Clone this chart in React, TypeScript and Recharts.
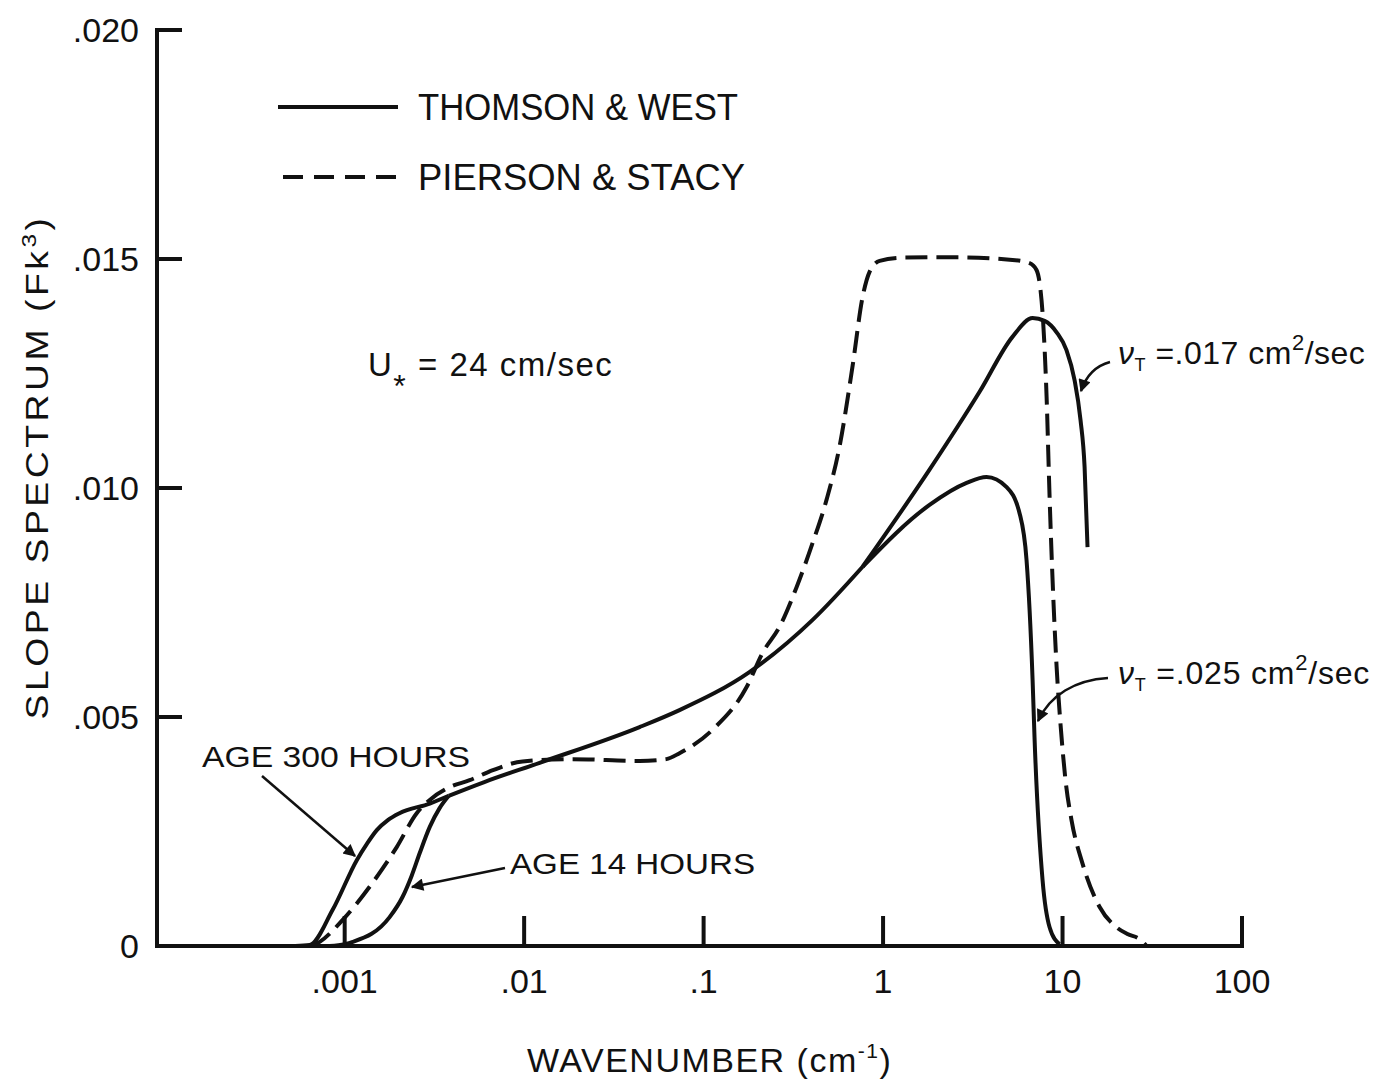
import React from 'react';
import { LineChart, Line, XAxis, YAxis, Legend } from 'recharts';

// wavenumber (cm^-1) ticks, log axis
const xTicks = [0.001, 0.01, 0.1, 1, 10, 100];
const xTickLabels = ['.001', '.01', '.1', '1', '10', '100'];
// slope spectrum ticks
const yTicks = [0, 0.005, 0.01, 0.015, 0.02];
const yTickLabels = ['0', '.005', '.010', '.015', '.020'];

const legendNames = ['THOMSON & WEST', 'PIERSON & STACY'];

// [k, Fk^3]
const piersonStacy = [
  [0.000655, 0], [0.000726, 0.00009], [0.000975, 0.00057], [0.00143, 0.00138], [0.00195, 0.00216],
  [0.00252, 0.0029], [0.00298, 0.00319], [0.00385, 0.00347], [0.00497, 0.00362], [0.0067, 0.00384],
  [0.0098, 0.00403], [0.0186, 0.00408], [0.044, 0.00404], [0.062, 0.00408], [0.0734, 0.00421],
  [0.112, 0.00472], [0.174, 0.00566], [0.213, 0.0064], [0.265, 0.00697], [0.33, 0.00784],
  [0.405, 0.0088], [0.484, 0.00974], [0.573, 0.01092], [0.676, 0.01266], [0.769, 0.01417],
  [0.841, 0.01472], [0.957, 0.01496], [1.3, 0.01503], [2.26, 0.01504], [5.26, 0.01498],
  [6.55, 0.01491], [7.16, 0.01476], [7.54, 0.01432], [7.74, 0.01382], [8.15, 0.01199],
  [8.47, 0.0098], [9.27, 0.00609], [9.75, 0.00483], [10.39, 0.00362], [11.22, 0.00275],
  [12.9, 0.00181], [16.1, 0.00085], [20.0, 0.00041], [23.0, 0.00026], [26.9, 0.00015], [29.4, 0],
];

// Thomson & West, low wavenumber end: age 300 hours / age 14 hours
const twAge300 = [
  [0.00053, 0], [0.000638, 0.00002], [0.000857, 0.00079], [0.00117, 0.00188], [0.00133, 0.00223],
  [0.00151, 0.00253], [0.00174, 0.00275], [0.00202, 0.0029], [0.00298, 0.00311], [0.0038, 0.00328],
];
const twAge14 = [
  [0.000825, 0], [0.001, 0.00004], [0.00111, 0.00009], [0.00178, 0.00063], [0.0021, 0.00107],
  [0.00236, 0.00153], [0.00262, 0.00203], [0.00298, 0.0026], [0.00338, 0.00301], [0.0038, 0.00328],
];
// shared middle part
const twCommon = [
  [0.0038, 0.00328], [0.006, 0.00358], [0.0122, 0.004], [0.044, 0.00478], [0.0734, 0.00515],
  [0.18, 0.00598], [0.405, 0.00712], [0.769, 0.00828],
];
// high wavenumber end: nu_T = .017 and .025 cm2/sec
const twNu017 = [
  [0.769, 0.00828], [1.815, 0.0104], [3.45, 0.0121], [5.26, 0.0133], [6.81, 0.01371],
  [7.94, 0.01365], [9.27, 0.0134], [10.52, 0.01301], [11.66, 0.01236], [12.6, 0.01148],
  [13.27, 0.01046], [13.78, 0.00871],
];
const twNu025 = [
  [0.769, 0.00828], [1.815, 0.00963], [2.92, 0.01011], [3.77, 0.01024], [4.88, 0.01002],
  [5.76, 0.00945], [6.3, 0.00843], [6.81, 0.00581], [6.98, 0.00456], [7.74, 0.00144],
  [8.47, 0.00041], [9.62, 0.00004],
];

const toPoints = (rows: number[][]) => rows.map(([k, v]) => ({ k, v }));

const INK = '#111';
const FONT = '"Liberation Sans", Arial, sans-serif';

const labelFor = (ticks: number[], labels: string[], value: number) => {
  const i = ticks.findIndex((t) => Math.abs(t - value) < Math.abs(t) * 1e-6 + 1e-12);
  return i >= 0 ? labels[i] : String(value);
};

function XTick(props: any) {
  const { x, y, payload } = props;
  return (
    <g>
      <line x1={x} y1={y} x2={x} y2={y - 30} stroke={INK} strokeWidth={4} />
      <text x={x} y={y + 47} textAnchor="middle" fontSize={34} fill={INK} fontFamily={FONT}>
        {labelFor(xTicks, xTickLabels, payload.value)}
      </text>
    </g>
  );
}

function YTick(props: any) {
  const { x, y, payload } = props;
  return (
    <g>
      {payload.value !== 0 && (
        <line x1={x} y1={y} x2={x + 25} y2={y} stroke={INK} strokeWidth={4} />
      )}
      <text x={x - 18} y={y + 12} textAnchor="end" fontSize={34} fill={INK} fontFamily={FONT}>
        {labelFor(yTicks, yTickLabels, payload.value)}
      </text>
    </g>
  );
}

function LegendBox() {
  return (
    <svg width={500} height={130}>
      <line x1={8} y1={27} x2={128} y2={27} stroke={INK} strokeWidth={4} />
      <line x1={13} y1={97} x2={128} y2={97} stroke={INK} strokeWidth={4} strokeDasharray="20 11" />
      <text x={148} y={40} fontSize={36} fill={INK} fontFamily={FONT} textLength={320} lengthAdjust="spacingAndGlyphs">
        {legendNames[0]}
      </text>
      <text x={148} y={110} fontSize={36} fill={INK} fontFamily={FONT} textLength={327} lengthAdjust="spacingAndGlyphs">
        {legendNames[1]}
      </text>
    </svg>
  );
}

const lineProps = {
  type: 'monotone' as const,
  dataKey: 'v',
  stroke: INK,
  strokeWidth: 4,
  dot: false,
  activeDot: false,
  isAnimationActive: false,
  legendType: 'none' as const,
};

export default function App() {
  return (
    <div style={{ position: 'absolute', left: 0, top: 0, width: 1377, height: 1080, background: '#fff' }}>
      <LineChart width={1377} height={1080} margin={{ top: 30, right: 135, bottom: 74, left: 57 }}>
        <XAxis
          dataKey="k"
          type="number"
          scale="log"
          domain={[0.00009, 100]}
          allowDataOverflow
          ticks={xTicks}
          interval={0}
          height={60}
          tickSize={0}
          tickMargin={0}
          tickLine={false}
          tick={<XTick />}
          axisLine={{ stroke: INK, strokeWidth: 4, strokeLinecap: 'square' }}
        />
        <YAxis
          type="number"
          domain={[0, 0.02]}
          ticks={yTicks}
          interval={0}
          width={100}
          tickSize={0}
          tickMargin={0}
          tickLine={false}
          tick={<YTick />}
          axisLine={{ stroke: INK, strokeWidth: 4, strokeLinecap: 'square' }}
        />
        <Legend
          layout="vertical"
          align="center"
          verticalAlign="middle"
          width={500}
          height={130}
          wrapperStyle={{ left: 270, top: 80, width: 500, height: 130 }}
          content={<LegendBox />}
        />
        <Line {...lineProps} data={toPoints(piersonStacy)} name="Pierson & Stacy" strokeDasharray="22 9" />
        <Line {...lineProps} data={toPoints(twAge300)} name="Age 300 hours" />
        <Line {...lineProps} data={toPoints(twAge14)} name="Age 14 hours" />
        <Line {...lineProps} data={toPoints(twCommon)} name="Thomson & West" />
        <Line {...lineProps} data={toPoints(twNu017)} name="nu .017" />
        <Line {...lineProps} data={toPoints(twNu025)} name="nu .025" />
      </LineChart>

      {/* axis titles and annotations */}
      <svg width={1377} height={1080} style={{ position: 'absolute', left: 0, top: 0, pointerEvents: 'none' }}>
        <defs>
          <marker id="ah" viewBox="0 0 10 10" refX="9" refY="5" markerWidth="7" markerHeight="5" orient="auto" markerUnits="strokeWidth">
            <path d="M0,0 L10,5 L0,10 z" fill={INK} />
          </marker>
        </defs>
        <g fontFamily={FONT} fill={INK}>
          <text x={0} y={0} fontSize={32} letterSpacing={3} textAnchor="middle" transform="translate(48 467) rotate(-90)" textLength={505} lengthAdjust="spacingAndGlyphs">
            SLOPE SPECTRUM (Fk<tspan fontSize={21} dy={-12}>3</tspan><tspan dy={12}>)</tspan>
          </text>
          <text x={527} y={1072} fontSize={34} letterSpacing={1.5}>
            WAVENUMBER (cm<tspan fontSize={21} dy={-14}>-1</tspan><tspan dy={14}>)</tspan>
          </text>

          <text x={368} y={376} fontSize={33} letterSpacing={1.5}>
            U<tspan fontSize={32} dy={21}>*</tspan><tspan dy={-21}> = 24 cm/sec</tspan>
          </text>

          <text x={1118} y={364} fontSize={32} letterSpacing={0.5}>
            <tspan fontStyle="italic">ν</tspan><tspan fontSize={18} dy={7}>T</tspan>
            <tspan dy={-7}> =.017 cm</tspan><tspan fontSize={22} dy={-14}>2</tspan><tspan dy={14}>/sec</tspan>
          </text>
          <text x={1118} y={684} fontSize={32} letterSpacing={0.8}>
            <tspan fontStyle="italic">ν</tspan><tspan fontSize={18} dy={7}>T</tspan>
            <tspan dy={-7}> =.025 cm</tspan><tspan fontSize={22} dy={-14}>2</tspan><tspan dy={14}>/sec</tspan>
          </text>

          <text x={202} y={767} fontSize={30} textLength={268} lengthAdjust="spacingAndGlyphs">AGE 300 HOURS</text>
          <text x={510} y={874} fontSize={30} textLength={245} lengthAdjust="spacingAndGlyphs">AGE 14 HOURS</text>
        </g>
        <g stroke={INK} fill="none" strokeWidth={2.5}>
          <path d="M262,776 L355,856" markerEnd="url(#ah)" />
          <path d="M505,868 L412,887" markerEnd="url(#ah)" />
          <path d="M1110,362 C1095,366 1086,376 1081,391" markerEnd="url(#ah)" />
          <path d="M1108,678 C1075,680 1050,695 1038,721" markerEnd="url(#ah)" />
        </g>
      </svg>
    </div>
  );
}
